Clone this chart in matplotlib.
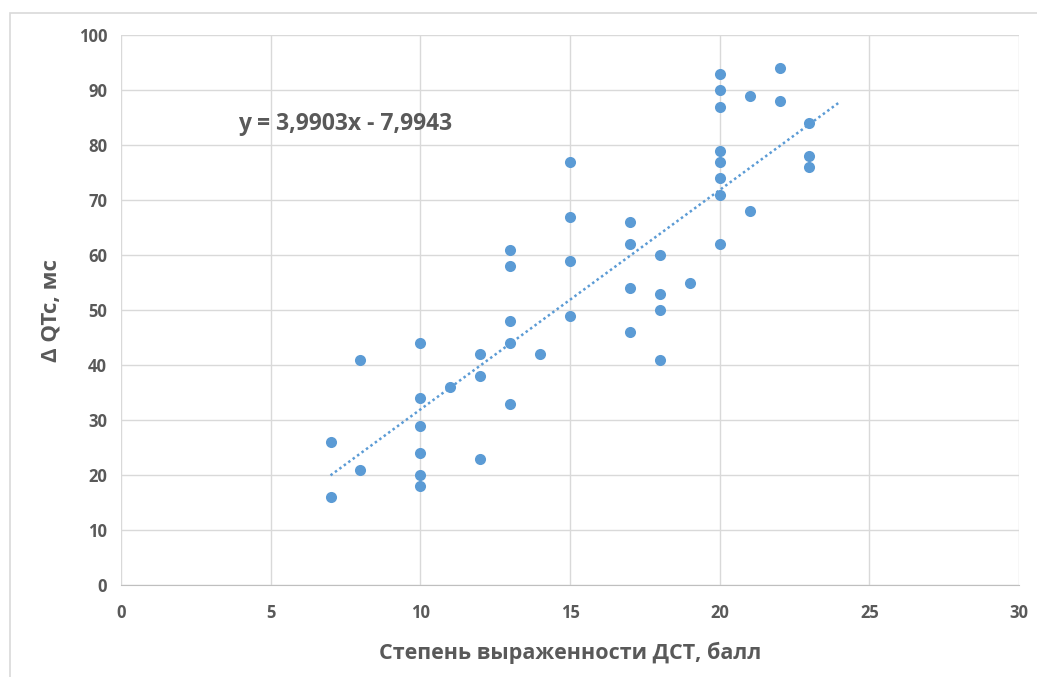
import numpy as np
import matplotlib.pyplot as plt
from matplotlib.patches import Rectangle

# score (x) and delta QTc (y)
score = [7, 7, 8, 8,
         10, 10, 10, 10, 10, 10,
         11,
         12, 12, 12,
         13, 13, 13, 13, 13,
         14,
         15, 15, 15, 15,
         17, 17, 17, 17,
         18, 18, 18, 18,
         19,
         20, 20, 20, 20, 20, 20, 20, 20,
         21, 21,
         22, 22,
         23, 23, 23]
dqtc = [26, 16, 41, 21,
        44, 34, 29, 24, 20, 18,
        36,
        42, 38, 23,
        61, 58, 48, 44, 33,
        42,
        77, 67, 59, 49,
        66, 62, 54, 46,
        60, 53, 50, 41,
        55,
        93, 90, 87, 79, 77, 74, 71, 62,
        89, 68,
        94, 88,
        84, 78, 76]

slope = 3.9903
intercept = -7.9943
trend_x = [7, 24]

x_ticks = [0, 5, 10, 15, 20, 25, 30]
y_ticks = [0, 10, 20, 30, 40, 50, 60, 70, 80, 90, 100]

blue = "#5b9bd5"
grey_text = "#595959"
plt.rcParams["font.family"] = ["Open Sans", "DejaVu Sans"]

fig = plt.figure(figsize=(10.37, 6.77), dpi=100)
# outer chart border (only top and left visible in the crop)
fig.patches.append(Rectangle((10 / 1037, -0.05), 1.2, 1 - 13 / 677 + 0.05,
                             transform=fig.transFigure, fill=False,
                             edgecolor="#d9d9d9", linewidth=1.2))

ax = fig.add_axes([121 / 1037, 1 - 585 / 677, 898 / 1037, 550 / 677])

ax.scatter(score, dqtc, s=64, color=blue, zorder=3, linewidths=0)

tx = np.array(trend_x, dtype=float)
ax.plot(tx, slope * tx + intercept, linestyle=(0, (1, 1.2)), color=blue,
        linewidth=1.8, zorder=2)

ax.set_xlim(0, 30)
ax.set_ylim(0, 100)
ax.set_xticks(x_ticks)
ax.set_yticks(y_ticks)
ax.grid(True, color="#d9d9d9", linewidth=1)
ax.set_axisbelow(True)
for side in ["top", "right", "left"]:
    ax.spines[side].set_visible(False)
ax.spines["bottom"].set_color("#bfbfbf")
ax.tick_params(length=0, labelsize=12, colors=grey_text)
ax.tick_params(axis="x", pad=14)
ax.tick_params(axis="y", pad=10)
for lab in ax.get_xticklabels() + ax.get_yticklabels():
    lab.set_fontweight("bold")

ax.set_xlabel("Степень выраженности ДСТ, балл", fontsize=15.5,
              fontweight="bold", color=grey_text, labelpad=14)
ax.set_ylabel("Δ QTc, мс", fontsize=16, fontweight="bold",
              color=grey_text, labelpad=12)

ax.text(3.9, 83.8, "y = 3,9903x - 7,9943", fontsize=16.5, fontweight="bold",
        color=grey_text, va="center", ha="left")

fig.savefig("out.png", dpi=100)
